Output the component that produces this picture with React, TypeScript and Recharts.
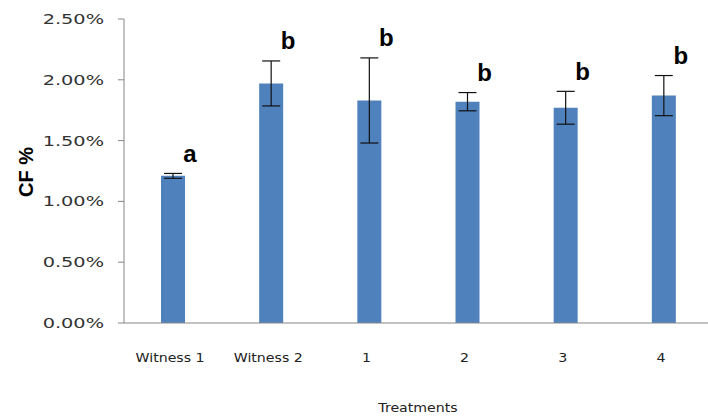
import { BarChart, Bar, XAxis, YAxis, ErrorBar, LabelList } from "recharts";

const treatments = ["Witness 1", "Witness 2", "1", "2", "3", "4"];
const cfValues = [1.21, 1.97, 1.83, 1.82, 1.77, 1.87];
const cfErrors = [0.02, 0.185, 0.35, 0.075, 0.135, 0.165];
const groupLetters = ["a", "b", "b", "b", "b", "b"];
const yTicks = [0, 0.5, 1, 1.5, 2, 2.5];

const data = treatments.map((t, i) => ({
  name: t,
  cf: cfValues[i],
  err: cfErrors[i],
  letter: groupLetters[i],
}));

const YTick = (props: any) => {
  const { x, y, payload } = props;
  return (
    <g transform={`translate(${x - 12},${y}) scale(1.38,1)`}>
      <text x={0} y={0} dy={5} textAnchor="end" fontSize={14} fontFamily="DejaVu Sans" fill="#333">
        {Number(payload.value).toFixed(2) + "%"}
      </text>
    </g>
  );
};

const XTick = (props: any) => {
  const { x, y, payload } = props;
  return (
    <g transform={`translate(${x - 3},${y + 31}) scale(1.18,1)`}>
      <text x={0} y={0} textAnchor="middle" fontSize={12} fontFamily="DejaVu Sans" fill="#222">
        {payload.value}
      </text>
    </g>
  );
};

// letter sits up and to the right of the error bar cap
const LetterLabel = (props: any) => {
  const { x, y, width, height, index, value } = props;
  const pxPerUnit = height / cfValues[index];
  const errTop = y - cfErrors[index] * pxPerUnit;
  return (
    <text
      x={x + width / 2 + 17}
      y={errTop - 20}
      textAnchor="middle"
      dominantBaseline="central"
      fontSize={24}
      fontWeight="bold"
      fontFamily="Liberation Sans"
      fill="#000"
    >
      {value}
    </text>
  );
};

export default function App() {
  return (
    <div style={{ position: "absolute", left: 0, top: 0, width: 708, height: 418, overflow: "hidden", background: "#fff" }}>
      <BarChart width={716} height={418} data={data} margin={{ top: 19, right: 3, left: 0, bottom: 0 }}>
        <XAxis
          dataKey="name"
          height={95}
          tickLine={false}
          stroke="#868686"
          interval={0}
          tick={<XTick />}
          label={() => (
            <g transform="translate(418,412) scale(1.18,1)">
              <text x={0} y={0} textAnchor="middle" fontSize={12} fontFamily="DejaVu Sans" fill="#222">
                Treatments
              </text>
            </g>
          )}
        />
        <YAxis
          width={124}
          domain={[0, 2.5]}
          ticks={yTicks}
          tickSize={6}
          stroke="#868686"
          tick={<YTick />}
          label={() => (
            <text
              x={0}
              y={0}
              transform="translate(26,172) rotate(-90)"
              textAnchor="middle"
              dominantBaseline="central"
              fontSize={20}
              fontWeight="bold"
              fontFamily="Liberation Sans"
              fill="#000"
            >
              CF %
            </text>
          )}
        />
        <Bar dataKey="cf" fill="#4F81BD" barSize={24} isAnimationActive={false}>
          <ErrorBar dataKey="err" width={9} stroke="#111" strokeWidth={1.2} />
          <LabelList dataKey="letter" content={<LetterLabel />} />
        </Bar>
      </BarChart>
    </div>
  );
}
